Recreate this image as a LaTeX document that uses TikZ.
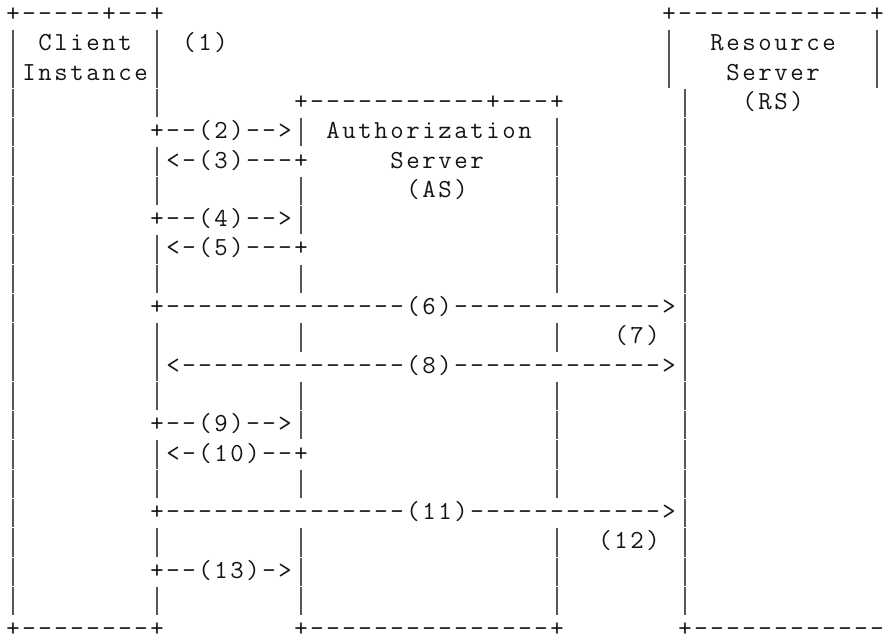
\documentclass[tikz,border=0pt]{standalone}
\usepackage{fontspec}
\definecolor{bargray}{RGB}{85,85,85}
\definecolor{inkc}{RGB}{20,20,20}
\def\cellchars#1{\ifx\relax#1\else\makebox[16pt]{#1}\expandafter\cellchars\fi}
% name, row, start column, characters (no spaces)
\newcommand\gridrow[4]{%
  \node[cell] (#1) at ({13+16*#3-8},{15+29.3*#2+6.5}) {\cellchars#4\relax};}
\newcommand\vbar[2]{%
  \draw[bar] ({13+16*#1},{15+29.3*#2-14.2}) -- ({13+16*#1},{15+29.3*#2+14.2});}
\begin{document}
\begin{tikzpicture}[x=1pt,y=-1pt,
  cell/.style={anchor=base west,inner sep=0pt,outer sep=0pt,text depth=0pt,
    font=\ttfamily\fontsize{26}{26}\selectfont,text=inkc},
  bar/.style={draw=bargray,line width=2.2pt}]
\fill[white] (0,0) rectangle (888,637);
\useasboundingbox (0,0) rectangle (888,637);
% ---- vertical bars ----
\foreach \r in {1,...,20} {\vbar{0}{\r}}
\foreach \r in {1,2,3,5,6,8,9,11,12,13,15,16,18,20} {\vbar{9}{\r}}
\foreach \r in {4,6,7,9,11,13,14,16,18,19,20} {\vbar{18}{\r}}
\foreach \r in {4,5,6,7,8,9,11,13,14,15,16,18,19,20} {\vbar{34}{\r}}
\foreach \r in {1,2} {\vbar{41}{\r}\vbar{54}{\r}}
\foreach \r in {3,...,20} {\vbar{42}{\r}}
% ---- character rows ----
\gridrow{clienttop}{0}{0}{+-----+--+}
\gridrow{rstop}{0}{41}{+------------+}
\gridrow{client}{1}{2}{Client}
\gridrow{s1}{1}{11}{(1)}
\gridrow{resource}{1}{44}{Resource}
\gridrow{instance}{2}{1}{Instance}
\gridrow{rsserver}{2}{45}{Server}
\gridrow{astop}{3}{18}{+-----------+---+}
\gridrow{rsabbr}{3}{46}{(RS)}
\gridrow{s2}{4}{9}{+--(2)-->}
\gridrow{authz}{4}{20}{Authorization}
\gridrow{s3}{5}{10}{<-(3)---+}
\gridrow{asserver}{5}{24}{Server}
\gridrow{asabbr}{6}{25}{(AS)}
\gridrow{s4}{7}{9}{+--(4)-->}
\gridrow{s5}{8}{10}{<-(5)---+}
\gridrow{s6}{10}{9}{+---------------(6)------------->}
\gridrow{s7}{11}{38}{(7)}
\gridrow{s8}{12}{10}{<--------------(8)------------->}
\gridrow{s9}{14}{9}{+--(9)-->}
\gridrow{s10}{15}{10}{<-(10)--+}
\gridrow{s11}{17}{9}{+---------------(11)------------>}
\gridrow{s12}{18}{37}{(12)}
\gridrow{s13}{19}{9}{+--(13)->}
\gridrow{clientbot}{21}{0}{+--------+}
\gridrow{asbot}{21}{18}{+---------------+}
\gridrow{rsbot}{21}{42}{+------------}
\end{tikzpicture}
\end{document}
